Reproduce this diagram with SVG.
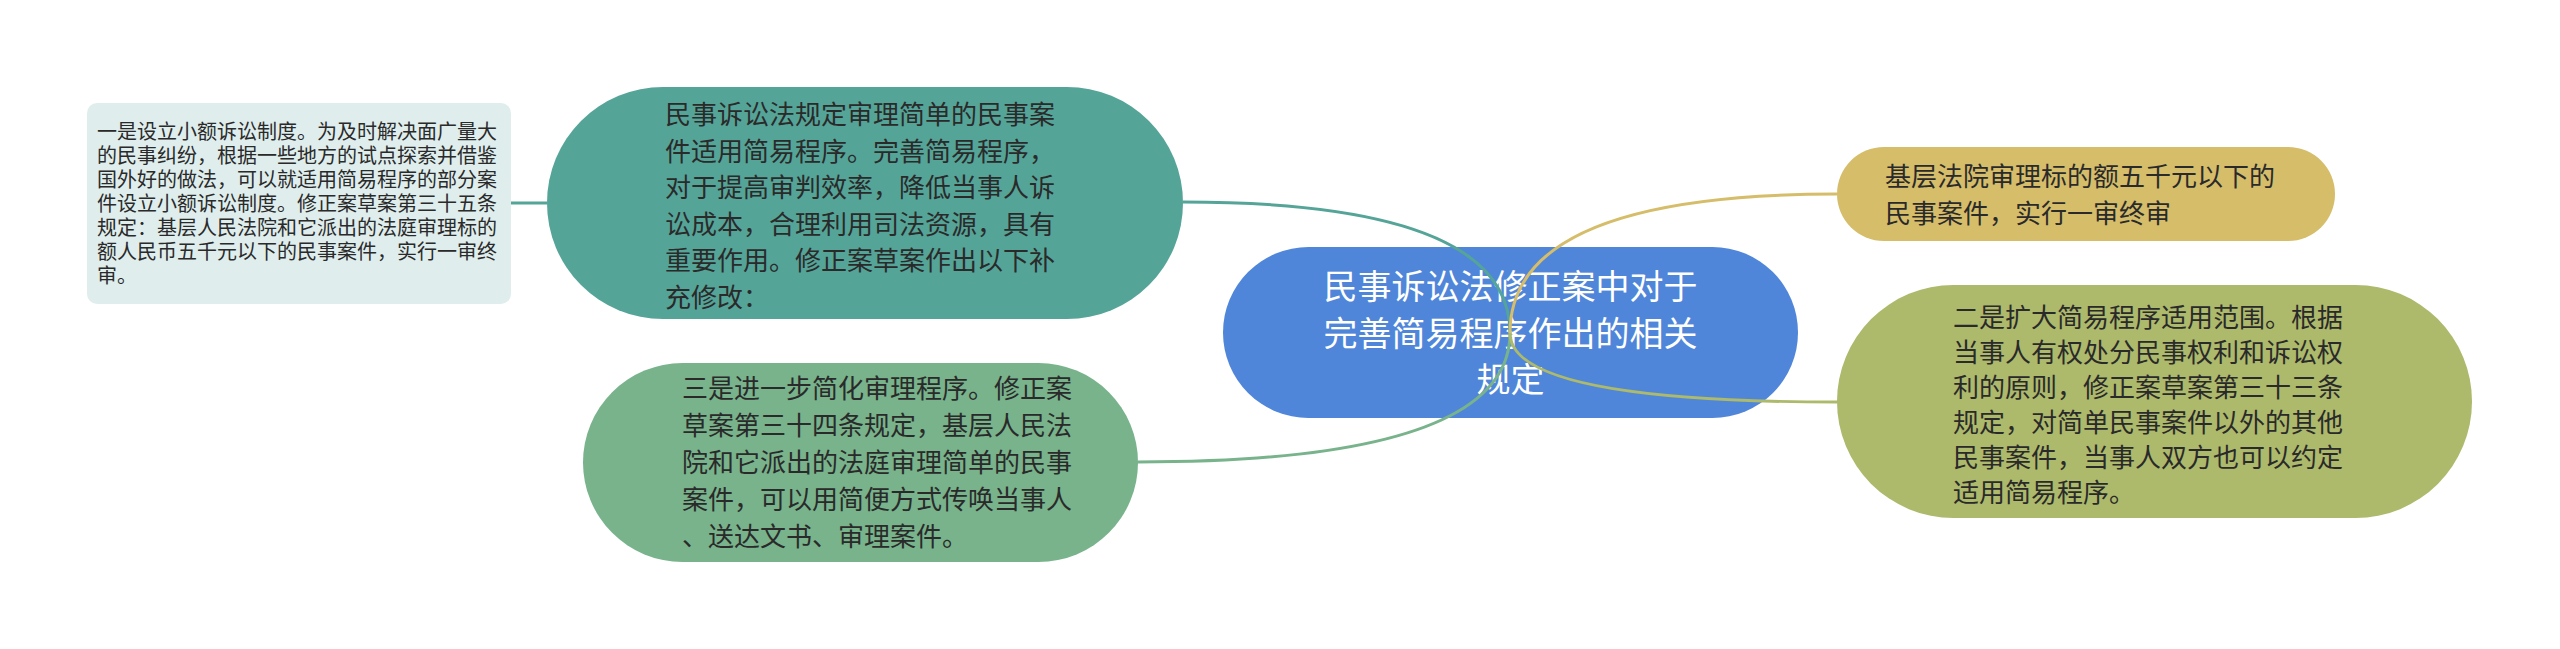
<svg xmlns="http://www.w3.org/2000/svg" width="2560" height="649" viewBox="0 0 2560 649">
<style>
.t{font-family:"Noto Sans CJK SC","Noto Sans",sans-serif;fill:#2a2a2a}
.s20{font-size:20px}
.s26{font-size:26px}
.main{font-family:"Noto Sans CJK SC","Noto Sans",sans-serif;font-size:34px;fill:#ffffff;text-anchor:middle}
.c{fill:none;stroke-width:3}
</style>
<rect width="2560" height="649" fill="#ffffff"/>
<g id="n-left">
<rect x="87" y="103" width="424" height="201" rx="10" fill="#dfeeed"/>
<text class="t s20" x="97"><tspan x="97" y="139">一是设立小额诉讼制度。为及时解决面广量大</tspan><tspan x="97" y="163">的民事纠纷，根据一些地方的试点探索并借鉴</tspan><tspan x="97" y="187">国外好的做法，可以就适用简易程序的部分案</tspan><tspan x="97" y="211">件设立小额诉讼制度。修正案草案第三十五条</tspan><tspan x="97" y="235">规定：基层人民法院和它派出的法庭审理标的</tspan><tspan x="97" y="259">额人民币五千元以下的民事案件，实行一审终</tspan><tspan x="97" y="283">审。</tspan></text>
</g>
<g id="n-teal">
<rect x="547" y="87" width="636" height="232" rx="116" fill="#55a498"/>
<text class="t s26"><tspan x="665" y="124">民事诉讼法规定审理简单的民事案</tspan><tspan x="665" y="160.6">件适用简易程序。完善简易程序，</tspan><tspan x="665" y="197.2">对于提高审判效率，降低当事人诉</tspan><tspan x="665" y="233.8">讼成本，合理利用司法资源，具有</tspan><tspan x="665" y="270.4">重要作用。修正案草案作出以下补</tspan><tspan x="665" y="307">充修改：</tspan></text>
</g>
<g id="n-green">
<rect x="583" y="363" width="555" height="199" rx="99.5" fill="#78b38c"/>
<text class="t s26"><tspan x="682" y="398">三是进一步简化审理程序。修正案</tspan><tspan x="682" y="435">草案第三十四条规定，基层人民法</tspan><tspan x="682" y="472">院和它派出的法庭审理简单的民事</tspan><tspan x="682" y="509">案件，可以用简便方式传唤当事人</tspan><tspan x="682" y="546">、送达文书、审理案件。</tspan></text>
</g>
<g id="n-main">
<rect x="1223" y="247" width="575" height="171" rx="85.5" fill="#4f86d9"/>
<text class="main"><tspan x="1510.5" y="299">民事诉讼法修正案中对于</tspan><tspan x="1510.5" y="345.5">完善简易程序作出的相关</tspan><tspan x="1510.5" y="392">规定</tspan></text>
</g>
<g id="n-gold">
<rect x="1837" y="147" width="498" height="94" rx="47" fill="#d5bd6a"/>
<text class="t s26"><tspan x="1885" y="186">基层法院审理标的额五千元以下的</tspan><tspan x="1885" y="223">民事案件，实行一审终审</tspan></text>
</g>
<g id="n-olive">
<rect x="1837" y="285" width="635" height="233" rx="116.5" fill="#adb96b"/>
<text class="t s26"><tspan x="1953" y="327">二是扩大简易程序适用范围。根据</tspan><tspan x="1953" y="362">当事人有权处分民事权利和诉讼权</tspan><tspan x="1953" y="397">利的原则，修正案草案第三十三条</tspan><tspan x="1953" y="432">规定，对简单民事案件以外的其他</tspan><tspan x="1953" y="467">民事案件，当事人双方也可以约定</tspan><tspan x="1953" y="502">适用简易程序。</tspan></text>
</g>
<g id="connectors">
<path class="c" d="M547 203 L511 203" stroke="#55a498"/>
<path class="c" d="M1510 333 Q1510 202 1183 202" stroke="#55a498"/>
<path class="c" d="M1510 333 Q1510 462 1138 462" stroke="#78b38c"/>
<path class="c" d="M1510 333 Q1510 194 1837 194" stroke="#d5bd6a"/>
<path class="c" d="M1510 333 Q1510 402 1837 402" stroke="#adb96b"/>
</g>
</svg>
